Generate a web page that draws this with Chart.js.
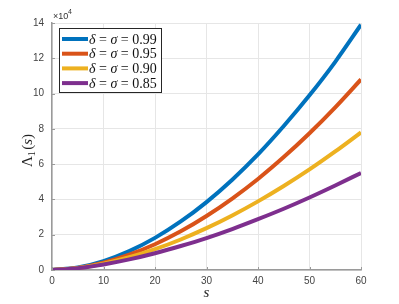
<!DOCTYPE html>
<html><head><meta charset="utf-8">
<script src="https://cdn.jsdelivr.net/npm/chart.js@4/dist/chart.umd.min.js"></script>
<style>html,body{margin:0;padding:0;background:#fff}#wrap{width:399px;height:304px}</style>
</head><body><div id="wrap"><canvas id="c" width="399" height="304"></canvas></div>
<script>
const sValues = [0,5,10,15,20,25,30,35,40,45,50,55,60];
const lambda099 = [0,1400,5050,10700,18200,27500,38500,51200,65500,81600,99000,118000,139000];
const lambda095 = [0,1170,4140,8660,14600,21900,30600,40500,51600,64000,77500,92200,108000];
const lambda090 = [0,1090,3580,7200,11800,17300,23700,30900,38900,47600,57000,67200,78000];
const lambda085 = [0,1030,3130,6000,9500,13600,18100,23200,28800,34700,41100,47900,55000];
const seriesLabels = ['0.99','0.95','0.90','0.85'];
const seriesColors = ['#0072BD','#D95319','#EDB120','#7E2F8E'];
const yTicks = [0,2,4,6,8,10,12,14];
const xTicks = [0,10,20,30,40,50,60];
const allSeries = [lambda099, lambda095, lambda090, lambda085];

const datasets = allSeries.map((arr,i)=>({
  label: seriesLabels[i],
  data: arr.map((v,j)=>({x:sValues[j], y:v})),
  borderColor: seriesColors[i],
  borderWidth: 4,
  pointRadius: 0,
  fill: false,
  cubicInterpolationMode: 'monotone',
  order: 3 - i
}));

const AXC = '#9a9a9a';
const decor = {
  id:'decor',
  afterDraw(chart){
    const ctx = chart.ctx, a = chart.chartArea;
    const xs = chart.scales.x, ys = chart.scales.y;
    ctx.save();
    ctx.strokeStyle = AXC; ctx.lineWidth = 1;
    xTicks.forEach(t=>{const p=Math.round(xs.getPixelForValue(t))+0.5;ctx.beginPath();ctx.moveTo(p,a.bottom);ctx.lineTo(p,a.bottom-3);ctx.stroke();});
    yTicks.forEach(t=>{const p=Math.round(ys.getPixelForValue(t*1e4))+0.5;ctx.beginPath();ctx.moveTo(a.left,p);ctx.lineTo(a.left+3,p);ctx.stroke();});
    ctx.fillStyle = '#333';
    ctx.font = '9px "Liberation Sans", Arial, sans-serif';
    ctx.textBaseline = 'alphabetic'; ctx.textAlign='left';
    ctx.fillText('\u00d710', a.left+1, a.top-4);
    ctx.font = '7px "Liberation Sans", Arial, sans-serif';
    ctx.fillText('4', a.left+16, a.top-9);
    ctx.fillStyle = '#222';
    ctx.font = 'italic 15px "Liberation Serif", "DejaVu Serif", serif';
    ctx.textAlign='center';
    ctx.fillText('s', (a.left+a.right)/2, 297);
    ctx.save();
    ctx.translate(32, (a.top+a.bottom)/2 + 4);
    ctx.rotate(-Math.PI/2);
    ctx.textAlign='left';
    const parts = [
      ['\u039b','15px','',0],
      ['1','10px','',3],
      ['(','15px','',0],
      ['s','15px','italic ',0],
      [')','15px','',0]
    ];
    let total = 0;
    parts.forEach(p=>{ctx.font=p[2]+p[1]+' "Liberation Serif", serif'; total+=ctx.measureText(p[0]).width+(p[0]==='1'?1.5:0);});
    let x = -total/2;
    parts.forEach(p=>{ctx.font=p[2]+p[1]+' "Liberation Serif", serif'; ctx.fillText(p[0], x, p[3]); x+=ctx.measureText(p[0]).width+(p[0]==='1'?1.5:0);});
    ctx.restore();
    const lx=59, ly=28, lw=102, lh=64;
    ctx.fillStyle='#fff'; ctx.fillRect(lx,ly,lw,lh);
    ctx.strokeStyle='#262626'; ctx.lineWidth=1;
    ctx.strokeRect(lx+0.5,ly+0.5,lw,lh);
    seriesLabels.forEach((lab,i)=>{
      const cy = ly + 11 + i*14.7;
      ctx.strokeStyle = seriesColors[i]; ctx.lineWidth=4;
      ctx.beginPath(); ctx.moveTo(lx+3,cy); ctx.lineTo(lx+29,cy); ctx.stroke();
      ctx.fillStyle='#111'; ctx.textAlign='left'; ctx.textBaseline='middle';
      let tx = lx+30;
      const segs = [['\u03b4','italic '],[' = ',''],['\u03c3','italic '],[' = ',''],[lab,'']];
      segs.forEach(sg=>{ctx.font=sg[1]+'14px "Liberation Serif", serif'; ctx.fillText(sg[0],tx,cy+1); tx+=ctx.measureText(sg[0]).width;});
    });
    ctx.restore();
  }
};

new Chart(document.getElementById('c'), {
  type:'line',
  data:{datasets},
  options:{
    responsive:false, animation:false,
    layout:{padding:{top:23,right:38,left:0,bottom:0}},
    plugins:{legend:{display:false}, tooltip:{enabled:false}},
    scales:{
      x:{type:'linear', min:0, max:60,
        afterBuildTicks(s){s.ticks = xTicks.map(v=>({value:v}));},
        afterFit(s){s.height = 34;},
        grid:{color:'#e6e6e6', drawTicks:false},
        border:{color:AXC, width:1.5},
        ticks:{padding:5, color:'#444', font:{family:'"Liberation Sans", Arial, sans-serif', size:10}, maxRotation:0}
      },
      y:{type:'linear', min:0, max:140000,
        afterBuildTicks(s){s.ticks = yTicks.map(v=>({value:v*1e4}));},
        afterFit(s){s.width = 52;},
        grid:{color:'#e6e6e6', drawTicks:false},
        border:{color:AXC, width:1.5},
        ticks:{padding:8, color:'#444', font:{family:'"Liberation Sans", Arial, sans-serif', size:10}, callback:v=>String(v/1e4)}
      }
    }
  },
  plugins:[decor]
});
</script></body></html>
